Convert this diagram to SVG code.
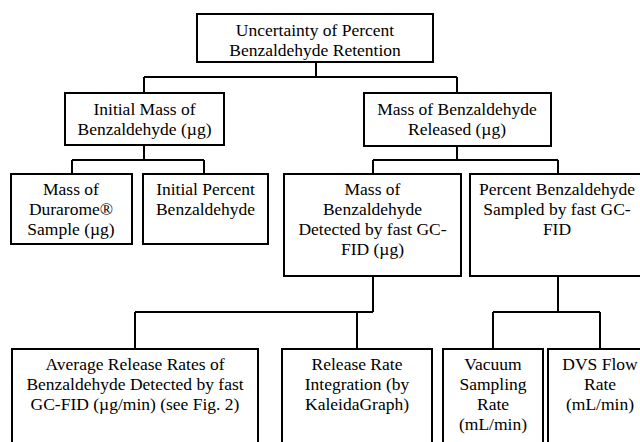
<svg xmlns="http://www.w3.org/2000/svg" width="640" height="442" viewBox="0 0 640 442">
<style>
.box{fill:#fff;stroke:#000;stroke-width:2}
.con{fill:none;stroke:#000;stroke-width:2}
</style>
<rect width="640" height="442" fill="#fff"/>
<g id="connectors" class="con">
<path d="M316,62V77M144,77H457M144,77V93M457,77V93"/>
<path d="M144,145V160M72,160H204M72,160V174M204,160V174"/>
<path d="M457,146V160M373,160H558M373,160V174M558,160V174"/>
<path d="M373,276V312M135,312H373M135,312V349M357,312V349"/>
<path d="M558,276V312M493,312H600M493,312V349M600,312V349"/>
</g>
<g font-family="Liberation Serif" font-size="17.5" text-anchor="middle" fill="#000">
<g id="root"><rect class="box" x="197" y="14" width="236" height="48"/>
<text x="315" y="36">Uncertainty of Percent</text><text x="315" y="56">Benzaldehyde Retention</text></g>
<g id="initial-mass"><rect class="box" x="65" y="93" width="159" height="52"/>
<text x="144.5" y="115">Initial Mass of</text><text x="144.5" y="135">Benzaldehyde (µg)</text></g>
<g id="mass-released"><rect class="box" x="364" y="93" width="187" height="53"/>
<text x="457" y="115">Mass of Benzaldehyde</text><text x="457" y="135">Released (µg)</text></g>
<g id="mass-durarome"><rect class="box" x="11" y="174" width="121" height="70"/>
<text x="71" y="195">Mass of</text><text x="71" y="215">Durarome®</text><text x="71" y="235">Sample (µg)</text></g>
<g id="initial-percent"><rect class="box" x="143" y="174" width="125" height="70"/>
<text x="205.5" y="195">Initial Percent</text><text x="205.5" y="215">Benzaldehyde</text></g>
<g id="mass-detected"><rect class="box" x="284" y="174" width="177" height="102"/>
<text x="372.5" y="195">Mass of</text><text x="372.5" y="215">Benzaldehyde</text><text x="372.5" y="235">Detected by fast GC-</text><text x="372.5" y="255">FID (µg)</text></g>
<g id="percent-sampled"><rect class="box" x="470" y="174" width="180" height="102"/>
<text x="557" y="195">Percent Benzaldehyde</text><text x="557" y="215">Sampled by fast GC-</text><text x="557" y="235">FID</text></g>
<g id="average-release"><rect class="box" x="12" y="349" width="246" height="110"/>
<text x="135" y="370">Average Release Rates of</text><text x="135" y="390">Benzaldehyde Detected by fast</text><text x="135" y="410">GC-FID (µg/min) (see Fig. 2)</text></g>
<g id="release-integration"><rect class="box" x="282" y="349" width="150" height="110"/>
<text x="357" y="370">Release Rate</text><text x="357" y="390">Integration (by</text><text x="357" y="410">KaleidaGraph)</text></g>
<g id="vacuum-rate"><rect class="box" x="443" y="349" width="100" height="110"/>
<text x="493" y="370">Vacuum</text><text x="493" y="390">Sampling</text><text x="493" y="410">Rate</text><text x="493" y="430">(mL/min)</text></g>
<g id="dvs-flow"><rect class="box" x="548" y="349" width="104" height="110"/>
<text x="600" y="370">DVS Flow</text><text x="600" y="390">Rate</text><text x="600" y="410">(mL/min)</text></g>
</g>
</svg>
